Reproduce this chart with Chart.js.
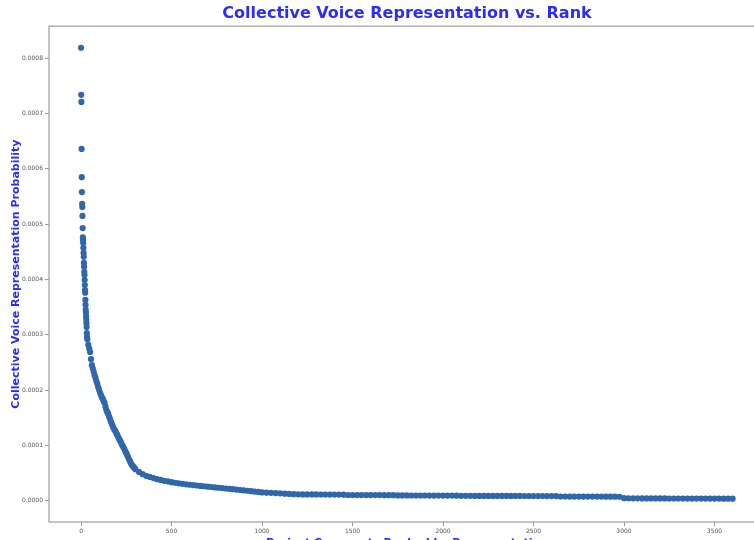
<!DOCTYPE html>
<html>
<head>
<meta charset="utf-8">
<script src="https://cdn.jsdelivr.net/npm/chart.js@4.4.1/dist/chart.umd.min.js"></script>
<style>
  html, body { margin: 0; padding: 0; background: #fff; overflow: hidden; width: 754px; height: 540px; }
  #wrap { position: absolute; left: 0; top: 0; width: 814px; height: 556px; }
</style>
</head>
<body>
<div id="wrap"><canvas id="c" width="814" height="556"></canvas></div>
<script>
// Representation probability per comment, sorted from highest to lowest.
// Ranks 0–33, one comment per rank
const headStart = 0, headStep = 1;
const headValues = [
  819e-6, 734e-6, 721e-6, 636e-6, 585e-6, 558e-6, 537e-6, 531e-6, 515e-6, 493e-6,
  476e-6, 471e-6, 466e-6, 457e-6, 448e-6, 441e-6, 430e-6, 423e-6, 414e-6, 408e-6,
  399e-6, 390e-6, 381e-6, 376e-6, 363e-6, 354e-6, 345e-6, 340e-6, 333e-6, 327e-6,
  321e-6, 314e-6, 303e-6, 296e-6
];
// Ranks 35–295, every 5th comment
const kneeStart = 35, kneeStep = 5;
const kneeValues = [
  292e-6, 282e-6, 275e-6, 269e-6, 256e-6, 245e-6, 239e-6, 233e-6, 227e-6, 222e-6,
  216e-6, 211e-6, 205e-6, 200e-6, 195e-6, 191e-6, 187e-6, 184e-6, 180e-6, 177e-6,
  170e-6, 164e-6, 160e-6, 157e-6, 152e-6, 148e-6, 143e-6, 139e-6, 135e-6, 131e-6,
  128e-6, 126e-6, 122e-6, 119e-6, 115e-6, 112e-6, 109e-6, 106e-6, 102e-6, 99e-6,
  96e-6, 93e-6, 89e-6, 86e-6, 82e-6, 79e-6, 75e-6, 72e-6, 68e-6, 65e-6,
  63e-6, 61e-6, 59e-6
];
// Ranks 300–980, every 20th comment
const bendStart = 300, bendStep = 20;
const bendValues = [
  57e-6, 52e-6, 48e-6, 45e-6, 43e-6, 41e-6, 39e-6, 37.5e-6, 36e-6, 34.8e-6,
  33.6e-6, 32.5e-6, 31.5e-6, 30.6e-6, 29.7e-6, 28.9e-6, 28.2e-6, 27.5e-6, 26.8e-6, 26.1e-6,
  25.4e-6, 24.8e-6, 24.1e-6, 23.4e-6, 22.8e-6, 22.1e-6, 21.4e-6, 20.8e-6, 20.1e-6, 19.4e-6,
  18.7e-6, 18.0e-6, 17.3e-6, 16.6e-6, 15.8e-6
];
// Ranks 1000–3600, every 25th comment
const tailStart = 1000, tailStep = 25;
const tailValues = [
  15.0e-6, 14.6e-6, 14.2e-6, 13.8e-6, 13.3e-6, 12.8e-6, 12.3e-6, 11.9e-6,
  11.5e-6, 11.4e-6, 11.4e-6, 11.3e-6, 11.3e-6, 11.2e-6, 11.2e-6, 11.1e-6, 11.1e-6, 11.0e-6, 10.9e-6,
  10.3e-6, 10.3e-6, 10.2e-6, 10.2e-6, 10.2e-6, 10.1e-6, 10.1e-6, 10.1e-6, 10.0e-6, 10.0e-6, 10.0e-6,
  9.5e-6, 9.5e-6, 9.5e-6, 9.4e-6, 9.4e-6, 9.4e-6, 9.4e-6, 9.3e-6, 9.3e-6, 9.3e-6, 9.2e-6, 9.2e-6, 9.2e-6, 9.1e-6,
  8.8e-6, 8.8e-6, 8.8e-6, 8.7e-6, 8.7e-6, 8.7e-6, 8.7e-6, 8.7e-6, 8.6e-6, 8.6e-6, 8.6e-6,
  8.6e-6, 8.6e-6, 8.6e-6, 8.5e-6, 8.5e-6, 8.5e-6, 8.5e-6, 8.5e-6, 8.4e-6, 8.4e-6, 8.4e-6,
  7.6e-6, 7.6e-6, 7.5e-6, 7.5e-6, 7.5e-6, 7.5e-6, 7.4e-6, 7.4e-6, 7.4e-6, 7.4e-6, 7.3e-6, 7.3e-6, 7.3e-6, 7.2e-6,
  4.6e-6, 4.4e-6, 4.3e-6, 4.3e-6, 4.2e-6, 4.2e-6, 4.2e-6, 4.1e-6, 4.1e-6, 4.1e-6, 4.0e-6, 4.0e-6, 4.0e-6,
  4.0e-6, 3.9e-6, 3.9e-6, 3.9e-6, 3.9e-6, 3.8e-6, 3.8e-6, 3.8e-6, 3.8e-6, 3.7e-6, 3.7e-6, 3.6e-6
];

const xTickValues = [0, 500, 1000, 1500, 2000, 2500, 3000, 3500];
const yTickValues = [0, 0.0001, 0.0002, 0.0003, 0.0004, 0.0005, 0.0006, 0.0007, 0.0008];

const chartTitle = 'Collective Voice Representation vs. Rank';
const xTitle = 'Project Comments Ranked by Representation';
const yTitle = 'Collective Voice Representation Probability';

function toPoints(start, step, values) {
  return values.map((v, i) => ({ x: start + i * step, y: v }));
}
const points = [].concat(
  toPoints(headStart, headStep, headValues),
  toPoints(kneeStart, kneeStep, kneeValues),
  toPoints(bendStart, bendStep, bendValues),
  toPoints(tailStart, tailStep, tailValues)
);

// Box around the plotting area (all four sides)
const frame = {
  id: 'frame',
  afterDatasetsDraw(chart) {
    const { ctx, chartArea: a } = chart;
    ctx.save();
    ctx.strokeStyle = '#a6a6a6';
    ctx.lineWidth = 1.3;
    ctx.strokeRect(a.left, a.top, a.right - a.left, a.bottom - a.top);
    ctx.restore();
  }
};

Chart.defaults.font.family = "'DejaVu Sans', sans-serif";
const titleBlue = '#2b2bff';
const tickFont = { size: 6 };

new Chart(document.getElementById('c'), {
  type: 'scatter',
  data: {
    datasets: [{
      data: points,
      pointRadius: 3.1,
      pointHoverRadius: 3.1,
      pointBorderWidth: 0,
      pointBackgroundColor: '#2f67aa',
      backgroundColor: '#2f67aa'
    }]
  },
  options: {
    responsive: false,
    animation: false,
    events: [],
    layout: { padding: 0 },
    plugins: {
      legend: { display: false },
      tooltip: { enabled: false },
      title: {
        display: true,
        text: chartTitle,
        color: titleBlue,
        font: { size: 16, weight: 'bold' },
        padding: { top: 4, bottom: 3 }
      }
    },
    scales: {
      x: {
        type: 'linear',
        min: -177,
        max: 3779,
        afterBuildTicks: s => { s.ticks = xTickValues.map(v => ({ value: v })); },
        afterFit: s => { s.height = 34; },
        ticks: {
          font: tickFont, color: '#555', padding: 2, maxRotation: 0, autoSkip: false,
          callback: v => String(v)
        },
        grid: { drawOnChartArea: false, drawTicks: true, tickLength: 4, color: '#999' },
        border: { display: false },
        title: {
          display: true, text: xTitle, color: titleBlue,
          font: { size: 11, weight: 'bold' },
          padding: { top: 0, bottom: 6 }
        }
      },
      y: {
        type: 'linear',
        min: -0.0000385,
        max: 0.000858,
        afterBuildTicks: s => { s.ticks = yTickValues.map(v => ({ value: v })); },
        afterFit: s => { s.width = 49; },
        ticks: {
          font: tickFont, color: '#555', padding: 2, autoSkip: false,
          callback: v => Number(v).toFixed(4)
        },
        grid: { drawOnChartArea: false, drawTicks: true, tickLength: 4, color: '#999' },
        border: { display: false },
        title: {
          display: true, text: yTitle, color: titleBlue,
          font: { size: 11, weight: 'bold' },
          padding: { top: 10, bottom: 0 }
        }
      },
      // empty right-hand margin so the plot area ends at the right spine
      margin: {
        type: 'linear',
        position: 'right',
        afterFit: s => { s.width = 49; },
        ticks: { display: false },
        grid: { display: false },
        border: { display: false }
      }
    }
  },
  plugins: [frame]
});
</script>
</body>
</html>
